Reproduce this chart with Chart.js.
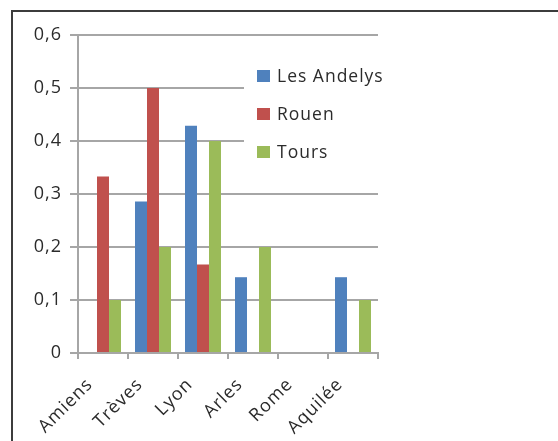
<html>
  <head>
    <meta charset="utf-8">
    <script src="https://cdn.jsdelivr.net/npm/chart.js@4"></script>
  </head>
  <body>
    <canvas id="graph" width="558" height="441"></canvas>
    <style>
      body{
        margin: 0;
        background-color: white;
      }
      #graph{ display: block; }
    </style>
    <script>
      var villes = ['Amiens', 'Trèves', 'Lyon', 'Arles', 'Rome', 'Aquilée'];
      var seriesNames = ['Les Andelys', 'Rouen', 'Tours'];
      var lesAndelys = [0, 0.286, 0.429, 0.143, 0, 0.143];
      var rouen = [0.333, 0.5, 0.167, 0, 0, 0];
      var tours = [0.1, 0.2, 0.4, 0.2, 0, 0.1];
      var seriesColors = ['#4F81BD', '#C0504D', '#9BBB59'];
      var yTickLabels = ['0', '0,1', '0,2', '0,3', '0,4', '0,5', '0,6'];

      var textColor = '#2b2b2b';
      var fontFamily = "'Open Sans', sans-serif";

      // cadre gauche + haut, puis légende sur fond blanc
      var frame = {
        id: 'frame',
        beforeDraw: function(chart){
          var c = chart.ctx;
          c.letterSpacing = '1px';
          c.save();
          c.fillStyle = 'white';
          c.fillRect(0, 0, chart.width, chart.height);
          c.strokeStyle = '#3c3c3c';
          c.lineWidth = 2;
          c.beginPath();
          c.moveTo(12, chart.height);
          c.lineTo(12, 11);
          c.lineTo(chart.width, 11);
          c.stroke();
          c.restore();
        },
        afterDraw: function(chart){
          var c = chart.ctx;
          c.save();
          c.fillStyle = 'white';
          c.fillRect(244, 56, 140, 112);
          c.font = '17.5px ' + fontFamily;
          c.textBaseline = 'middle';
          chart.data.datasets.forEach(function(ds, i){
            var y = 76 + i * 38;
            c.fillStyle = ds.backgroundColor;
            c.fillRect(257, y - 6, 13, 12);
            c.fillStyle = textColor;
            c.fillText(ds.label, 277, y + 1);
          });
          c.restore();
        }
      };

      var chartConfig = {
        type: 'bar',
        data: {
          labels: villes,
          datasets: [
            {label: seriesNames[0], data: lesAndelys, backgroundColor: seriesColors[0]},
            {label: seriesNames[1], data: rouen, backgroundColor: seriesColors[1]},
            {label: seriesNames[2], data: tours, backgroundColor: seriesColors[2]}
          ]
        },
        options: {
          responsive: false,
          animation: false,
          layout: { padding: {top: 35, right: 180, left: 0, bottom: 0} },
          datasets: { bar: { categoryPercentage: 0.72, barPercentage: 1 } },
          plugins:{
            legend: { display: false },
            tooltip: { enabled: false }
          },
          scales: {
            y: {
              min: 0,
              max: 0.6,
              afterFit: function(s){ s.width = 78; },
              border: { color: '#a6a6a6', width: 2 },
              grid: { color: '#a6a6a6', lineWidth: 2, tickLength: 8 },
              ticks: {
                stepSize: 0.1,
                padding: 8,
                color: textColor,
                font: { family: fontFamily, size: 18 },
                callback: function(v, i){ return yTickLabels[i]; }
              }
            },
            x: {
              afterFit: function(s){ s.height = 88; },
              border: { color: '#a6a6a6', width: 2 },
              grid: { drawOnChartArea: false, color: '#a6a6a6', lineWidth: 2, tickLength: 6 },
              ticks: {
                minRotation: 45,
                maxRotation: 45,
                padding: 15,
                labelOffset: -13,
                color: textColor,
                font: { family: fontFamily, size: 18 }
              }
            }
          }
        },
        plugins: [frame]
      };
      var graph = new Chart(document.getElementById("graph"), chartConfig);
    </script>
  </body>
</html>
